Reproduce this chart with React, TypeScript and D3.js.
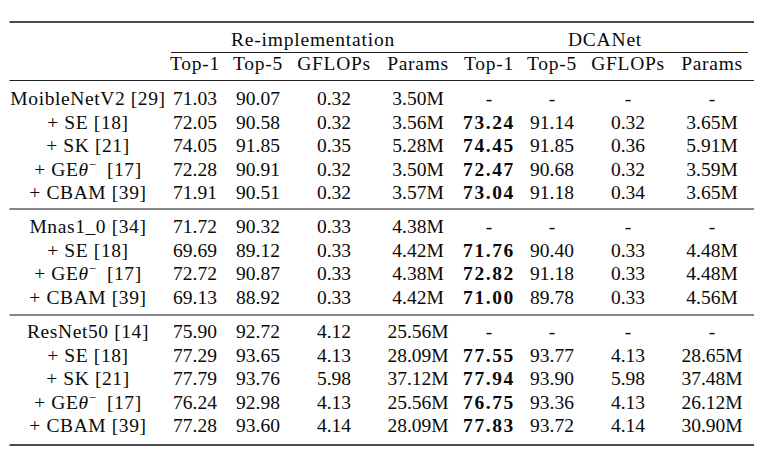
import React from "react";
import * as d3 from "d3";

// ---------- data ----------
const rowLabels = [
  "MoibleNetV2 [29]", "+ SE [18]", "+ SK [21]", "+ GEθ− [17]", "+ CBAM [39]",
  "Mnas1_0 [34]", "+ SE [18]", "+ GEθ− [17]", "+ CBAM [39]",
  "ResNet50 [14]", "+ SE [18]", "+ SK [21]", "+ GEθ− [17]", "+ CBAM [39]",
];
const rowGroup = [0, 0, 0, 0, 0, 1, 1, 1, 1, 2, 2, 2, 2, 2];
const groupHeaders = ["Re-implementation", "DCANet"];
const columnHeaders = ["Top-1", "Top-5", "GFLOPs", "Params", "Top-1", "Top-5", "GFLOPs", "Params"];

const reTop1 = [71.03, 72.05, 74.05, 72.28, 71.91, 71.72, 69.69, 72.72, 69.13, 75.9, 77.29, 77.79, 76.24, 77.28];
const reTop5 = [90.07, 90.58, 91.85, 90.91, 90.51, 90.32, 89.12, 90.87, 88.92, 92.72, 93.65, 93.76, 92.98, 93.6];
const reGflops = [0.32, 0.32, 0.35, 0.32, 0.32, 0.33, 0.33, 0.33, 0.33, 4.12, 4.13, 5.98, 4.13, 4.14];
const reParams = [3.5, 3.56, 5.28, 3.5, 3.57, 4.38, 4.42, 4.38, 4.42, 25.56, 28.09, 37.12, 25.56, 28.09];
const dcTop1 = [null, 73.24, 74.45, 72.47, 73.04, null, 71.76, 72.82, 71.0, null, 77.55, 77.94, 76.75, 77.83];
const dcTop5 = [null, 91.14, 91.85, 90.68, 91.18, null, 90.4, 91.18, 89.78, null, 93.77, 93.9, 93.36, 93.72];
const dcGflops = [null, 0.32, 0.36, 0.32, 0.34, null, 0.33, 0.33, 0.33, null, 4.13, 5.98, 4.13, 4.14];
const dcParams = [null, 3.65, 5.91, 3.59, 3.65, null, 4.48, 4.48, 4.56, null, 28.65, 37.48, 26.12, 30.9];

const columns: { values: (number | null)[]; suffix: string; bold: boolean }[] = [
  { values: reTop1, suffix: "", bold: false },
  { values: reTop5, suffix: "", bold: false },
  { values: reGflops, suffix: "", bold: false },
  { values: reParams, suffix: "M", bold: false },
  { values: dcTop1, suffix: "", bold: true },
  { values: dcTop5, suffix: "", bold: false },
  { values: dcGflops, suffix: "", bold: false },
  { values: dcParams, suffix: "M", bold: false },
];

// ---------- layout ----------
const W = 767;
const H = 458;
const FONT = "'Liberation Serif', 'Times New Roman', serif";
const FS = 19.5;

const colX = d3.scaleOrdinal<number, number>()
  .domain(d3.range(9))
  .range([88, 195, 258, 334, 418, 489, 552, 628, 712]);

// first baseline of each group and the rule below each group
const groupTop = [105, 233, 338.3];
const groupRuleY = [209, 315, 445];
const rowStep = d3.scaleLinear().domain([0, 1]).range([0, 23.5]);

const fmt = d3.format(".2f");

function Label({ text, x, y }: { text: string; x: number; y: number }) {
  if (text.includes("θ")) {
    const [pre, rest] = text.split("θ−");
    return (
      <text x={x} y={y} textAnchor="middle" letterSpacing={0.6}>
        {pre}
        <tspan fontStyle="italic">θ</tspan>
        <tspan dy={-7} fontSize={13}>−</tspan>
        <tspan dy={7}>{"\u2002" + rest.trim()}</tspan>
      </text>
    );
  }
  return (
    <text x={x} y={y} textAnchor="middle" letterSpacing={0.6}>
      {text}
    </text>
  );
}

export default function App() {
  const rowY = rowLabels.map((_, i) => {
    const g = rowGroup[i];
    const first = rowGroup.indexOf(g);
    return groupTop[g] + rowStep(i - first);
  });

  const left = 9.5;
  const right = 754;

  return (
    <svg
      width={W}
      height={H}
      style={{ position: "absolute", left: 0, top: 0, background: "#fff" }}
      fontFamily={FONT}
      fontSize={FS}
      fill="#0a0a0a"
    >
      {/* rules */}
      <line x1={left} x2={right} y1={22} y2={22} stroke="#111" strokeWidth={1.6} />
      <line x1={171} x2={456} y1={52.5} y2={52.5} stroke="#222" strokeWidth={1} />
      <line x1={456} x2={748} y1={52.5} y2={52.5} stroke="#222" strokeWidth={1} />
      <line x1={left} x2={right} y1={80.5} y2={80.5} stroke="#222" strokeWidth={1} />
      {groupRuleY.map((y, i) => (
        <line
          key={i}
          x1={left}
          x2={right}
          y1={y}
          y2={y}
          stroke="#111"
          strokeWidth={i === 2 ? 1.6 : 1}
        />
      ))}

      {/* group headers */}
      <text x={313} y={46} textAnchor="middle" letterSpacing={0.8}>{groupHeaders[0]}</text>
      <text x={605} y={46} textAnchor="middle" letterSpacing={0.8}>{groupHeaders[1]}</text>

      {/* column headers */}
      {columnHeaders.map((h, j) => (
        <text key={j} x={colX(j + 1)} y={70} textAnchor="middle" letterSpacing={0.7}>{h}</text>
      ))}

      {/* rows */}
      {rowLabels.map((lab, i) => (
        <g key={i}>
          <Label text={lab} x={colX(0)} y={rowY[i]} />
          {columns.map((c, j) => {
            const v = c.values[i];
            const s = v == null ? "-" : fmt(v) + c.suffix;
            const bold = c.bold && v != null;
            return (
              <text
                key={j}
                x={colX(j + 1)}
                y={rowY[i]}
                textAnchor="middle"
                fontWeight={bold ? "bold" : "normal"}
                letterSpacing={bold ? 1.6 : 0}
              >
                {s}
              </text>
            );
          })}
        </g>
      ))}
    </svg>
  );
}
